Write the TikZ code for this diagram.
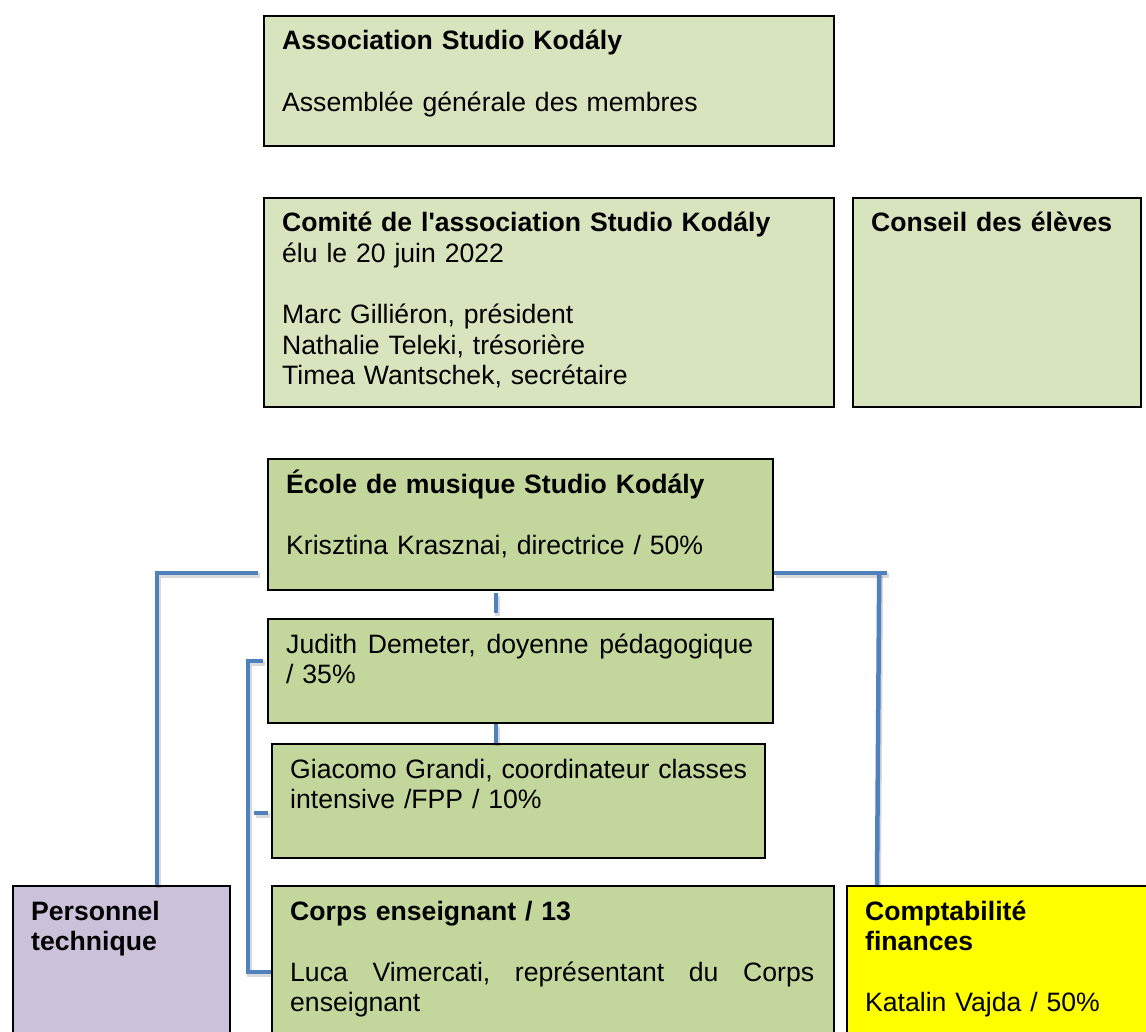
\documentclass[tikz,border=0pt]{standalone}
\usepackage{fontspec}
\setmainfont{Liberation Sans}[Ligatures=TeXOff]
\usetikzlibrary{calc}
\definecolor{lgreen}{HTML}{D7E4BD}
\definecolor{dgreen}{HTML}{C3D69B}
\definecolor{lav}{HTML}{CCC1DA}
\definecolor{connblue}{HTML}{4F81BD}
\definecolor{yel}{HTML}{FFFF00}
\begin{document}
\begin{tikzpicture}[x=1pt,y=-1pt,
  box/.style={draw=black, line width=2.2pt, rectangle, inner sep=0pt, anchor=north west},
  txt/.style={anchor=base west, inner sep=0pt, align=left, font=\fontsize{26.6}{30.6}\selectfont},
  conn/.style={draw=connblue, line width=4.5pt,
    preaction={draw=black, draw opacity=0.15, line width=5pt, transform canvas={shift={(1.5pt,-2.5pt)}}}}
]
\clip (0,0) rectangle (1146,1032);
\fill[white] (0,0) rectangle (1146,1032);

% boxes
\node[box, fill=lgreen, minimum width=570pt, minimum height=130pt] (assoc) at (263,15) {};
\node[box, fill=lgreen, minimum width=570pt, minimum height=209pt] (comite) at (263,197) {};
\node[box, fill=lgreen, minimum width=288pt, minimum height=209pt] (conseil) at (852,197) {};
\node[box, fill=dgreen, minimum width=505pt, minimum height=131pt] (ecole) at (267,458) {};
\node[box, fill=dgreen, minimum width=505pt, minimum height=104pt] (judith) at (267,618) {};
\node[box, fill=dgreen, minimum width=493pt, minimum height=114pt] (giacomo) at (271,743) {};
\node[box, fill=dgreen, minimum width=562pt, minimum height=170pt] (corps) at (271,885) {};
\node[box, fill=lav, minimum width=217pt, minimum height=170pt] (pers) at (12,885) {};
\node[box, fill=yel, minimum width=330pt, minimum height=170pt] (compta) at (846,885) {};

% texts
\node[txt, text width=532pt] (assocT) at ($(assoc.north west)+(19,35)$)
  {\textbf{Association Studio Kodály}\\[30.6pt]Assemblée générale des membres};
\node[txt, text width=532pt] (comiteT) at ($(comite.north west)+(19,35)$)
  {\textbf{Comité de l\symbol{39}association Studio Kodály}\\élu le 20 juin 2022\\[30.6pt]Marc Gilliéron, président\\Nathalie Teleki, trésorière\\Timea Wantschek, secrétaire};
\node[txt, text width=250pt] (conseilT) at ($(conseil.north west)+(19,35)$)
  {\textbf{Conseil des élèves}};
\node[txt, text width=467pt] (ecoleT) at ($(ecole.north west)+(19,35)$)
  {\textbf{École de musique Studio Kodály}\\[30.6pt]Krisztina Krasznai, directrice / 50\%};
\node[txt, text width=467pt] (judithT) at ($(judith.north west)+(19,35)$)
  {\makebox[467pt][l]{Judith\hfill Demeter,\hfill doyenne\hfill pédagogique}\\/ 35\%};
\node[txt, text width=475pt] (giacomoT) at ($(giacomo.north west)+(19,35)$)
  {Giacomo Grandi, coordinateur classes\\intensive /FPP / 10\%};
\node[txt, text width=524pt] (corpsT) at ($(corps.north west)+(19,35)$)
  {\textbf{Corps enseignant / 13}\\[30.6pt]\makebox[524pt][l]{Luca\hfill Vimercati,\hfill représentant\hfill du\hfill Corps}\\enseignant};
\node[txt, text width=179pt] (persT) at ($(pers.north west)+(19,35)$)
  {\textbf{Personnel}\\\textbf{technique}};
\node[txt, text width=270pt] (comptaT) at ($(compta.north west)+(19,35)$)
  {\textbf{Comptabilité}\\\textbf{finances}\\[30.6pt]Katalin Vajda / 50\%};

% connectors
\draw[conn] ($(ecole.north west)+(-9,115)$) -| ($(pers.north west)+(145,0)$);
\draw[conn] ($(ecole.north east)+(0,115)$) -- ($(ecole.north east)+(113,115)$);
\draw[conn] ($(ecole.north east)+(105,115)$) -- ($(compta.north west)+(31,0)$);
\draw[conn] ($(ecole.south west)+(229,2)$) -- ($(judith.north west)+(229,-5)$);
\draw[conn] ($(judith.south west)+(229,0)$) -- ($(giacomo.north west)+(225,0)$);
\draw[conn] ($(judith.north west)+(-4,43)$) -| ($(corps.north west)+(-23,87)$) -- ($(corps.north west)+(0,87)$);
\draw[conn] ($(giacomo.north west)+(-17,70)$) -- ($(giacomo.north west)+(-3,70)$);
\end{tikzpicture}
\end{document}
